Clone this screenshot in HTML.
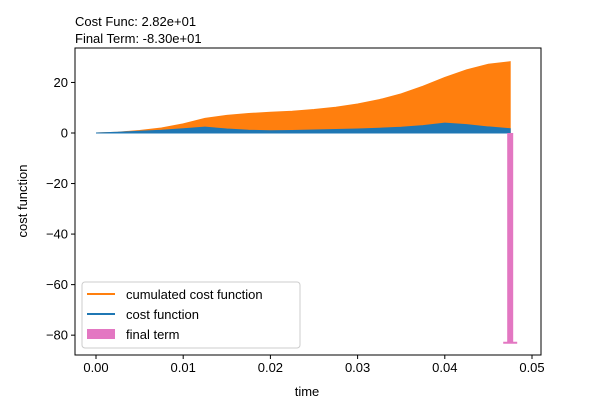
<!DOCTYPE html>
<html><head><meta charset="utf-8"><style>body{margin:0;background:#fff}svg text{font-family:"Liberation Sans","DejaVu Sans",sans-serif;font-size:13px;fill:#000}</style></head>
<body>
<svg id="c" width="600" height="400"></svg>
<script>
const times=[0,0.0025,0.005,0.0075,0.01,0.0125,0.015,0.0175,0.02,0.0225,0.025,0.0275,0.03,0.0325,0.035,0.0375,0.04,0.0425,0.045,0.0475];
const cumulated=[0,0.3,1,2,3.6,5.8,7,7.7,8.2,8.6,9.3,10.2,11.5,13.2,15.5,18.5,22,25,27.2,28.2];
const cost=[0,0.3,0.7,1.1,1.7,2.3,1.6,1.1,0.9,1.0,1.2,1.4,1.6,1.9,2.3,2.9,3.9,3.3,2.4,1.7];
const finalTerm=-83;
const xTicks=[0,0.01,0.02,0.03,0.04,0.05];
const xTickLabels=["0.00","0.01","0.02","0.03","0.04","0.05"];
const yTicks=[20,0,-20,-40,-60,-80];
const L=75,R=541,T=48,B=355;
const X=t=>96+t*8720;
const Y=v=>133-v*2.527;
const s=document.getElementById('c');const NS='http://www.w3.org/2000/svg';
function mk(tag,at,txt){const e=document.createElementNS(NS,tag);for(const k in at)e.setAttribute(k,at[k]);if(txt!=null)e.textContent=txt;s.appendChild(e);return e;}
function area(vals,color,name){let d='M'+X(times[0])+','+Y(0);times.forEach((t,i)=>d+=' L'+X(t)+','+Y(vals[i]));d+=' L'+X(times[times.length-1])+','+Y(0)+' Z';
const p=mk('path',{d:d,fill:color,stroke:color,'stroke-width':1});

}
area(cumulated,'#ff7f0e','cumulated-cost-area');
area(cost,'#1f77b4','cost-area');
const tl=times[times.length-1];
const bar=mk('rect',{x:X(tl)-3,y:Y(0),width:6,height:Y(finalTerm)-Y(0),fill:'#e377c2'});


const cap=mk('line',{x1:X(tl)-7,x2:X(tl)+7,y1:Y(finalTerm),y2:Y(finalTerm),stroke:'#e377c2','stroke-width':2});


mk('rect',{x:L,y:T,width:R-L,height:B-T,fill:'none',stroke:'#000','stroke-width':1,});
xTicks.forEach((t,i)=>{const x=X(t);mk('line',{x1:x,x2:x,y1:B,y2:B+4,stroke:'#000'});
const e=mk('text',{x:x,y:B+17,'text-anchor':'middle'},xTickLabels[i]);

});
yTicks.forEach(v=>{const y=Y(v);mk('line',{x1:L-4,x2:L,y1:y,y2:y,stroke:'#000'});
const e=mk('text',{x:L-7,y:y+4.5,'text-anchor':'end'},v<0?'\u2212'+(-v):String(v));

});
</script>
<svg width="600" height="400" style="position:absolute;left:0;top:0">
<text x="75" y="26">Cost Func: 2.82e+01</text>
<text x="75" y="43">Final Term: -8.30e+01</text>
<text x="307" y="396" text-anchor="middle">time</text>
<text transform="translate(27,201) rotate(-90)" text-anchor="middle">cost function</text>
<g>
<rect x="82" y="282" width="218" height="66" rx="3" fill="#fff" fill-opacity="0.8" stroke="#ccc"/>
<line x1="87" x2="115" y1="294" y2="294" stroke="#ff7f0e" stroke-width="2"/>
<text x="126" y="299">cumulated cost function</text>
<line x1="87" x2="115" y1="314" y2="314" stroke="#1f77b4" stroke-width="2"/>
<text x="126" y="319">cost function</text>
<rect x="87" y="329" width="28" height="10" fill="#e377c2"/>
<text x="126" y="339">final term</text>
</g>
</svg>
</body></html>
